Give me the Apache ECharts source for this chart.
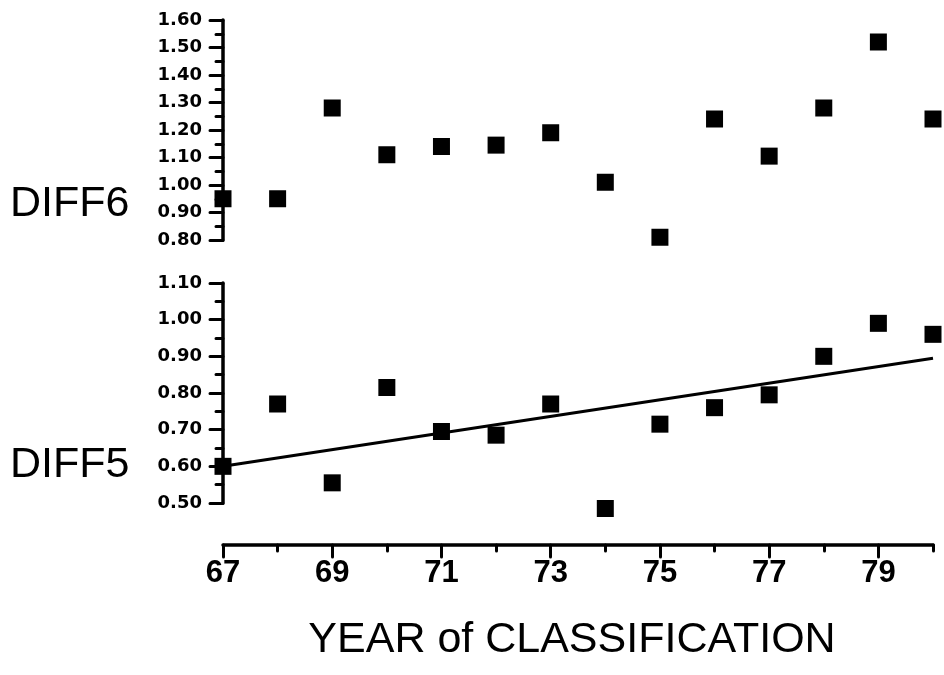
<!DOCTYPE html>
<html>
<head>
<meta charset="utf-8">
<script src="https://cdn.jsdelivr.net/npm/echarts@6/dist/echarts.min.js"></script>
<style>
  html, body { margin: 0; padding: 0; background: #fff; }
  #chart { width: 944px; height: 675px; }
</style>
</head>
<body>
<div id="chart"></div>
<script>
// Year of classification (19xx)
const years = [67, 68, 69, 70, 71, 72, 73, 74, 75, 76, 77, 78, 79, 80];
// Upper panel
const diff6 = [0.95, 0.95, 1.28, 1.11, 1.14, 1.145, 1.19, 1.01, 0.81, 1.24, 1.105, 1.28, 1.52, 1.24];
// Lower panel
const diff5 = [0.60, 0.77, 0.555, 0.815, 0.695, 0.685, 0.77, 0.485, 0.715, 0.76, 0.795, 0.90, 0.99, 0.96];
// Fitted trend line for DIFF5 (end points)
const diff5Fit = [[67, 0.60], [80, 0.895]];
// Labelled and unlabelled year ticks
const yearLabels = [67, 69, 71, 73, 75, 77, 79];
const yearMinorTicks = [68, 70, 72, 74, 76, 78, 80];

const ink = '#000';
const tickFont = { color: ink, fontFamily: 'DejaVu Sans', fontWeight: 'bold', fontSize: 18 };

function valueYAxis(gridIndex, min, max) {
  return {
    type: 'value', gridIndex, min, max, interval: 0.1,
    axisLine: { show: true, lineStyle: { color: ink, width: 3.5, cap: 'round' } },
    axisTick: { show: true, length: 13, lineStyle: { color: ink, width: 3, cap: 'round' } },
    minorTick: { show: true, splitNumber: 2, length: 7, lineStyle: { color: ink, width: 3, cap: 'round' } },
    splitLine: { show: false },
    axisLabel: Object.assign({ margin: 21, formatter: v => v.toFixed(2) }, tickFont)
  };
}

const markerStyle = { color: ink, opacity: 1 };

const chart = echarts.init(document.getElementById('chart'), null, { renderer: 'canvas' });
chart.setOption({
  backgroundColor: '#fff',
  animation: false,
  grid: [
    { left: 223, right: 11, top: 20, height: 220 },
    { left: 223, right: 11, top: 283, height: 220 }
  ],
  xAxis: [
    { type: 'value', gridIndex: 0, min: 67, max: 80, show: false },
    {
      type: 'value', gridIndex: 1, min: 67, max: 80, position: 'bottom', offset: 42,
      axisLine: { show: true, lineStyle: { color: ink, width: 3.5, cap: 'round' } },
      axisTick: { show: true, length: 12, customValues: yearLabels, lineStyle: { color: ink, width: 3, cap: 'round' } },
      axisLabel: { customValues: yearLabels, margin: 13, color: ink, fontFamily: 'Liberation Sans', fontWeight: 'bold', fontSize: 31 },
      splitLine: { show: false },
      name: 'YEAR of CLASSIFICATION',
      nameLocation: 'middle',
      nameGap: 74,
      nameTextStyle: { color: ink, fontFamily: 'Liberation Sans', fontSize: 43, padding: [0, 12, 0, 0] }
    },
    {
      type: 'value', gridIndex: 1, min: 67, max: 80, position: 'bottom', offset: 42,
      axisLine: { show: false },
      axisTick: { show: true, length: 6, customValues: yearMinorTicks, lineStyle: { color: ink, width: 3, cap: 'round' } },
      axisLabel: { show: false },
      splitLine: { show: false }
    }
  ],
  yAxis: [
    valueYAxis(0, 0.8, 1.6),
    valueYAxis(1, 0.5, 1.1)
  ],
  graphic: [
    { type: 'text', left: 10, top: 183, style: { text: 'DIFF6', fill: ink, font: '43px "Liberation Sans"' } },
    { type: 'text', left: 10, top: 444, style: { text: 'DIFF5', fill: ink, font: '43px "Liberation Sans"' } }
  ],
  series: [
    {
      name: 'DIFF6', type: 'scatter', xAxisIndex: 0, yAxisIndex: 0, clip: false,
      symbol: 'rect', symbolSize: 17, itemStyle: markerStyle,
      data: years.map((y, i) => [y, diff6[i]])
    },
    {
      name: 'DIFF5 trend', type: 'line', xAxisIndex: 1, yAxisIndex: 1,
      symbol: 'none', lineStyle: { color: ink, width: 3 },
      data: diff5Fit
    },
    {
      name: 'DIFF5', type: 'scatter', xAxisIndex: 1, yAxisIndex: 1, clip: false,
      symbol: 'rect', symbolSize: 17, itemStyle: markerStyle,
      data: years.map((y, i) => [y, diff5[i]])
    }
  ]
});
</script>
</body>
</html>
